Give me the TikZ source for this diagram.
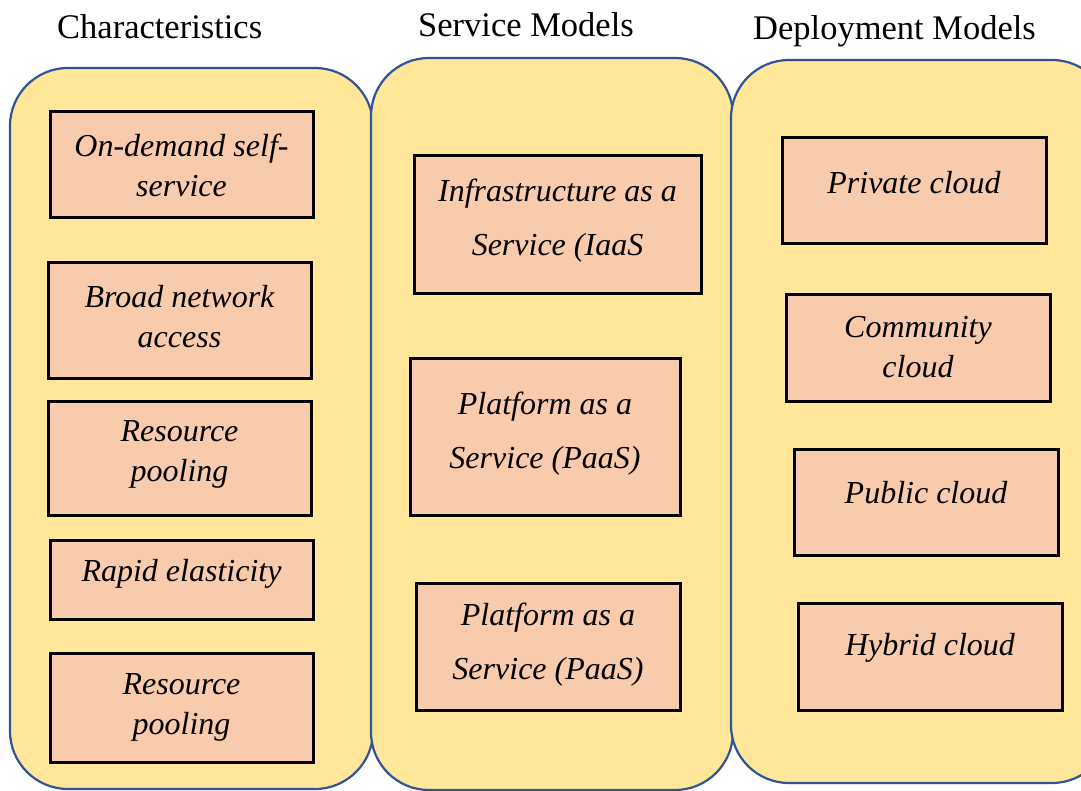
\documentclass[tikz,border=0pt]{standalone}
\usepackage{fontspec}
\setmainfont{Liberation Serif}
\usetikzlibrary{calc}
\definecolor{panelfill}{HTML}{FFE699}
\definecolor{paneledge}{HTML}{2F5597}
\definecolor{itemfill}{HTML}{F8CBAD}
\tikzset{
  panel/.style={fill=panelfill,draw=paneledge,line width=2.2pt,rounded corners=58pt},
  item/.style={draw=black,fill=itemfill,line width=3pt,inner sep=0pt},
  itemtext/.style={align=center,inner sep=0pt},
  heading/.style={font=\fontsize{34.5}{40}\selectfont,anchor=base west,inner sep=0pt}
}

\begin{document}
\begin{tikzpicture}[x=1pt,y=-1pt]
\useasboundingbox (0,0) rectangle (1081,791);
\clip (0,0) rectangle (1081,791);
\foreach \xa/\ya/\xb/\yb in {10/68/373/789, 371/58/733/790, 731/60/1110/783} {
  \draw[panel] (\xa,\ya) rectangle (\xb,\yb);
}
\node[heading] (chr) at (57,38.5) {Characteristics};
\node[heading] (svc) at (418,36.5) {Service Models};
\node[heading] (dep) at (753,39.5) {Deployment Models};
\foreach \name/\x/\y/\w/\h/\ty/\lead/\txt in {
    ondemand/181.5/165/263/106/165/40/{On-demand self-\\service},
    broad/179.5/320.5/263/115/317/40/{Broad network\\access},
    pooling/179.5/458/263/114/454/40/{Resource\\pooling},
    rapid/181.5/579.5/263/79/574/40/{Rapid elasticity},
    poolingb/181.5/707.5/263/109/707/40/{Resource\\pooling},
    iaas/557.5/225/287/138/221/54/{Infrastructure as a\\Service (IaaS},
    paas/545/436.5/270/157/434/54/{Platform as a\\Service (PaaS)},
    paasb/548/646.5/264/127/645/54/{Platform as a\\Service (PaaS)},
    private/914/191/264/106/183/40/{Private cloud},
    community/918/348/264/106/347/40/{Community\\cloud},
    public/926/502/264/106/493/40/{Public cloud},
    hybrid/930/656.5/264/107/648/40/{Hybrid cloud}} {
  \node[item,minimum width=\w pt,minimum height=\h pt] (\name) at (\x,\y) {};
  \node[itemtext,font=\itshape\fontsize{32}{\lead}\selectfont] (\name-text) at (\x,\ty) {\txt};
}
\end{tikzpicture}
\end{document}
